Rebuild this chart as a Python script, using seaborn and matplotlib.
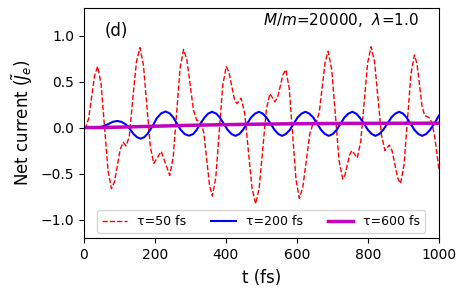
import matplotlib
matplotlib.use("Agg")
import matplotlib.pyplot as plt
import seaborn as sns
import numpy as np

# tau = 50 fs (red dashed)
t_50 = [0, 5, 13.5, 22, 30.5, 39, 48.75, 58.5, 68.25, 78, 86.25, 94.5, 102.75,
        111, 115, 119, 128, 138.5, 148.25, 158, 167.75, 177.5, 187.25, 197,
        207.5, 218, 230, 242, 251.75, 261.5, 271.25, 281, 290.25, 299.5,
        308.75, 318, 324, 330, 338, 346, 354, 362, 371.75, 381.5, 391.25, 401,
        408.5, 416, 423.5, 431, 437, 443, 453.25, 463.5, 473.75, 484, 494, 504,
        514, 524, 531, 538, 545.75, 553.5, 561.25, 569, 578.5, 588, 597.5, 607,
        616.75, 626.5, 636.25, 646, 655, 663.25, 671.5, 679.75, 688, 698.25,
        708.5, 718.75, 729, 735.5, 742, 748.5, 755, 762.5, 770, 779.75, 789.5,
        799.25, 809, 818.75, 828.5, 838.25, 848, 854, 860, 868, 876, 884, 892,
        901.75, 911.5, 921.25, 931, 938.25, 945.5, 952.75, 960, 967, 975, 981,
        988, 994, 1000]
j_50 = [0.0, 0.0, 0.097, 0.333, 0.568, 0.665, 0.471, 0.0, -0.471, -0.665,
        -0.591, -0.412, -0.234, -0.16, -0.18, -0.20, -0.10, 0.335, 0.714, 0.87,
        0.686, 0.24, -0.206, -0.39, -0.325, -0.26, -0.39, -0.52, -0.32, 0.165,
        0.65, 0.85, 0.738, 0.465, 0.192, 0.08, 0.07, 0.06, -0.058, -0.342,
        -0.627, -0.745, -0.539, -0.04, 0.459, 0.665, 0.606, 0.462, 0.319, 0.26,
        0.29, 0.32, 0.152, -0.255, -0.662, -0.83, -0.655, -0.23, 0.195, 0.37,
        0.325, 0.28, 0.331, 0.455, 0.579, 0.63, 0.426, -0.07, -0.566, -0.77,
        -0.65, -0.36, -0.07, 0.05, 0.06, 0.172, 0.445, 0.717, 0.83, 0.627,
        0.135, -0.357, -0.56, -0.515, -0.405, -0.295, -0.25, -0.29, -0.33,
        -0.153, 0.275, 0.703, 0.88, 0.715, 0.315, -0.085, -0.25, -0.22, -0.19,
        -0.251, -0.40, -0.549, -0.61, -0.406, 0.09, 0.586, 0.79, 0.694, 0.46,
        0.226, 0.13, 0.12, 0.10, 0.04, -0.10, -0.27, -0.46]

# tau = 200 fs (blue)
t_200 = [0, 20, 40, 55, 70, 82, 94, 106, 118, 127, 140, 150, 160, 170, 180,
         195, 205, 218, 230, 242, 252, 262, 272, 284, 296, 308, 318, 328, 340,
         350, 361, 373, 383, 394, 405, 416, 427, 438, 448, 460, 471, 482, 493,
         504, 514, 526, 537, 548, 558, 569, 580, 591, 602, 613, 624, 635, 646,
         657, 668, 679, 690, 701, 712, 723, 734, 745, 756, 767, 777, 789, 800,
         811, 821, 832, 843, 855, 866, 877, 888, 899, 909, 920, 931, 942, 953,
         964, 975, 987, 1000]
j_200 = [0.0, 0.0, 0.002, 0.015, 0.04, 0.063, 0.072, 0.063, 0.035, 0.0,
         -0.07, -0.105, -0.12, -0.105, -0.065, 0.025, 0.10, 0.155, 0.175,
         0.155, 0.11, 0.045, -0.02, -0.07, -0.088, -0.07, -0.025, 0.04, 0.11,
         0.152, 0.172, 0.152, 0.11, 0.043, -0.025, -0.07, -0.09, -0.07, -0.025,
         0.043, 0.11, 0.152, 0.172, 0.152, 0.11, 0.043, -0.025, -0.07, -0.09,
         -0.07, -0.025, 0.043, 0.11, 0.152, 0.172, 0.152, 0.11, 0.043, -0.025,
         -0.07, -0.09, -0.07, -0.025, 0.043, 0.11, 0.152, 0.172, 0.152, 0.11,
         0.043, -0.025, -0.07, -0.09, -0.07, -0.025, 0.043, 0.11, 0.152, 0.172,
         0.152, 0.11, 0.043, -0.025, -0.07, -0.09, -0.07, -0.025, 0.043, 0.13]

# tau = 600 fs (magenta)
t_600 = [0, 50, 100, 150, 200, 250, 300, 400, 500, 600, 750, 1000]
j_600 = [0.0, 0.001, 0.005, 0.01, 0.015, 0.02, 0.025, 0.032, 0.038, 0.042,
         0.046, 0.048]

fig = plt.figure(figsize=(4.63, 3.0), dpi=100)
ax = fig.add_axes([0.181, 0.207, 0.767, 0.766])

sns.lineplot(x=t_50, y=j_50, ax=ax, color="red", linestyle="--", linewidth=1.0,
             estimator=None, sort=False, label="τ=50 fs")
sns.lineplot(x=t_200, y=j_200, ax=ax, color="blue", linewidth=1.5,
             estimator=None, sort=False, label="τ=200 fs")
sns.lineplot(x=t_600, y=j_600, ax=ax, color="m", linewidth=2.5,
             estimator=None, sort=False, label="τ=600 fs")

ax.set_xlim(0, 1000)
ax.set_ylim(-1.2, 1.3)
ax.set_xticks([0, 200, 400, 600, 800, 1000])
ax.set_yticks([-1.0, -0.5, 0.0, 0.5, 1.0])
ax.tick_params(labelsize=10)
ax.set_xlabel("t (fs)", fontsize=12, labelpad=5)
ax.set_ylabel(r"Net current ($\tilde{J}_e$)", fontsize=12)

ax.text(0.06, 0.88, "(d)", transform=ax.transAxes, fontsize=12)
ax.text(0.505, 0.925, r"$M/m$=20000,  $\lambda$=1.0", transform=ax.transAxes,
        fontsize=11)

ax.legend(loc="lower center", ncol=3, fontsize=9, handlelength=2.0,
          columnspacing=2.0, borderaxespad=0.4, bbox_to_anchor=(0.5, 0.0))

fig.savefig("out.png", dpi=100)
